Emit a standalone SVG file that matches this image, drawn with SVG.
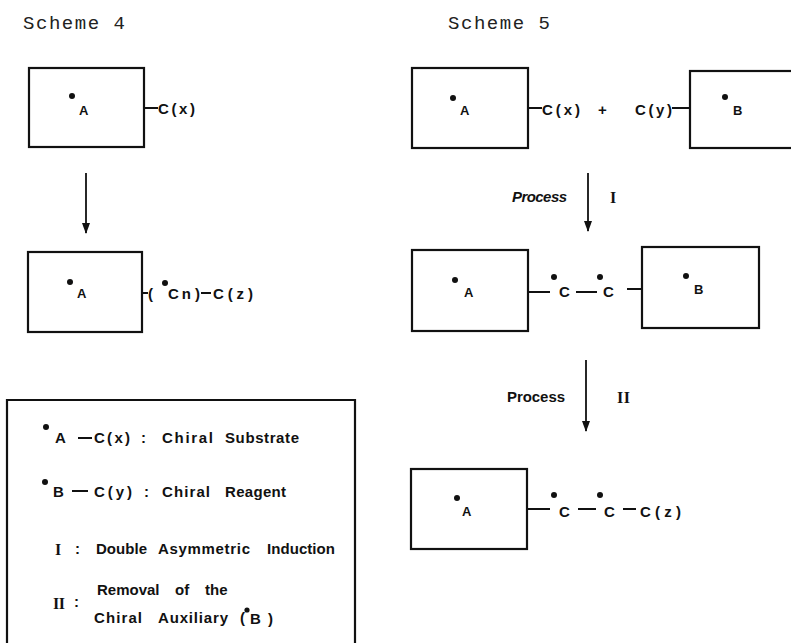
<svg xmlns="http://www.w3.org/2000/svg" width="791" height="643" viewBox="0 0 791 643">
<style>
.bx{fill:none;stroke:#111;stroke-width:2.2}
.ln{stroke:#111;stroke-width:2;fill:none}
.ar{stroke:#111;stroke-width:1.8;fill:none}
.dt{fill:#111}
.t{font-family:"Liberation Sans",Arial,sans-serif;font-weight:bold;font-size:15px;fill:#111}
.s{font-size:13px}
.i{font-style:italic}
.r{font-family:"Liberation Serif","Times New Roman",serif;font-weight:bold;font-size:16px;fill:#111}
.m{font-family:"Liberation Mono","Courier New",monospace;font-size:19px;fill:#222}
</style>
<defs>
<marker id="ah" markerUnits="userSpaceOnUse" markerWidth="11" markerHeight="8" refX="10" refY="4" orient="auto">
<path d="M0,0 L11,4 L0,8 z" fill="#111"/>
</marker>
</defs>
<rect width="791" height="643" fill="#fff"/>

<text class="m" x="23" y="29" textLength="102" lengthAdjust="spacing">Scheme 4</text>
<text class="m" x="448" y="29" textLength="102" lengthAdjust="spacing">Scheme 5</text>

<!-- Scheme 4 -->
<g id="s4-top">
<rect class="bx" x="29" y="68" width="115" height="79"/>
<circle class="dt" cx="72" cy="96" r="3"/>
<text class="t s" x="79" y="115">A</text>
<line class="ln" x1="144" y1="108" x2="158" y2="108"/>
<text class="t" x="158" y="114" textLength="37" lengthAdjust="spacing">C(x)</text>
</g>

<g id="s4-bottom">
<rect class="bx" x="28" y="252" width="114" height="80"/>
<circle class="dt" cx="70" cy="282" r="3"/>
<text class="t s" x="77" y="298">A</text>
<line class="ln" x1="142" y1="293" x2="148" y2="293"/>
<text class="t" x="148" y="299">(</text>
<circle class="dt" cx="165" cy="283" r="3"/>
<text class="t" x="168" y="299" textLength="23" lengthAdjust="spacing">Cn</text>
<text class="t" x="195" y="299">)</text>
<line class="ln" x1="201" y1="293" x2="211" y2="293"/>
<text class="t" x="213" y="299" textLength="40" lengthAdjust="spacing">C(z)</text>
</g>

<!-- Legend -->
<g id="legend">
<path class="bx" d="M7,650 V400 H355 V650"/>
<circle class="dt" cx="46" cy="427" r="3"/>
<text class="t" x="55" y="443">A</text>
<line class="ln" x1="78" y1="438" x2="92" y2="438"/>
<text class="t" x="94" y="443" textLength="36" lengthAdjust="spacing">C(x)</text>
<text class="t" x="141" y="443">:</text>
<text class="t" x="162" y="443" textLength="51" lengthAdjust="spacing">Chiral</text>
<text class="t" x="225" y="443" textLength="74" lengthAdjust="spacing">Substrate</text>

<circle class="dt" cx="45" cy="482" r="3"/>
<text class="t" x="53" y="497">B</text>
<line class="ln" x1="72" y1="491" x2="88" y2="491"/>
<text class="t" x="94" y="497" textLength="38" lengthAdjust="spacing">C(y)</text>
<text class="t" x="144" y="497">:</text>
<text class="t" x="162" y="497" textLength="48" lengthAdjust="spacing">Chiral</text>
<text class="t" x="225" y="497" textLength="61" lengthAdjust="spacing">Reagent</text>

<text class="r" x="55" y="555">I</text>
<text class="t" x="75" y="554">:</text>
<text class="t" x="96" y="554" textLength="51" lengthAdjust="spacing">Double</text>
<text class="t" x="158" y="554" textLength="92" lengthAdjust="spacing">Asymmetric</text>
<text class="t" x="267" y="554" textLength="68" lengthAdjust="spacing">Induction</text>

<text class="t" x="97" y="595">Removal</text>
<text class="t" x="175" y="595">of</text>
<text class="t" x="205" y="595">the</text>
<text class="r" x="53" y="609" textLength="12" lengthAdjust="spacing">II</text>
<text class="t" x="74" y="607">:</text>
<text class="t" x="94" y="623" textLength="48" lengthAdjust="spacing">Chiral</text>
<text class="t" x="158" y="623" textLength="70" lengthAdjust="spacing">Auxiliary</text>
<text class="t" x="240" y="623">(</text>
<circle class="dt" cx="247" cy="610" r="2.6"/>
<text class="t" x="250" y="624" textLength="23" lengthAdjust="spacing">B)</text>
</g>

<!-- Scheme 5 -->
<g id="s5-A1">
<rect class="bx" x="412" y="68" width="116" height="80"/>
<circle class="dt" cx="453" cy="98" r="3"/>
<text class="t s" x="460" y="115">A</text>
<line class="ln" x1="528" y1="108" x2="542" y2="108"/>
<text class="t" x="542" y="115" textLength="38" lengthAdjust="spacing">C(x)</text>
</g>
<text class="t" x="598" y="115">+</text>
<g id="s5-B1">
<text class="t" x="635" y="115" textLength="37" lengthAdjust="spacing">C(y)</text>
<line class="ln" x1="672" y1="108" x2="690" y2="108"/>
<rect class="bx" x="690" y="71" width="110" height="77"/>
<circle class="dt" cx="725" cy="97" r="3"/>
<text class="t s" x="733" y="115">B</text>
</g>

<g id="s5-mid">
<rect class="bx" x="412" y="250" width="116" height="81"/>
<circle class="dt" cx="455" cy="280" r="3"/>
<text class="t s" x="464" y="297">A</text>
<line class="ln" x1="528" y1="292" x2="550" y2="292"/>
<circle class="dt" cx="554" cy="277" r="3"/>
<text class="t" x="559" y="297">C</text>
<line class="ln" x1="576" y1="292" x2="597" y2="292"/>
<circle class="dt" cx="600" cy="277" r="3"/>
<text class="t" x="603" y="297">C</text>
<line class="ln" x1="627" y1="289" x2="642" y2="289"/>
<rect class="bx" x="642" y="247" width="117" height="81"/>
<circle class="dt" cx="686" cy="276" r="3"/>
<text class="t s" x="694" y="294">B</text>
</g>

<g id="s5-bottom">
<rect class="bx" x="411" y="469" width="116" height="80"/>
<circle class="dt" cx="457" cy="498" r="3"/>
<text class="t s" x="462" y="516">A</text>
<line class="ln" x1="527" y1="509" x2="550" y2="509"/>
<circle class="dt" cx="554" cy="495" r="3"/>
<text class="t" x="559" y="517">C</text>
<line class="ln" x1="578" y1="509" x2="596" y2="509"/>
<circle class="dt" cx="600" cy="495" r="3"/>
<text class="t" x="604" y="517">C</text>
<line class="ln" x1="623" y1="509" x2="636" y2="509"/>
<text class="t" x="640" y="517" textLength="41" lengthAdjust="spacing">C(z)</text>
</g>

<g id="connectors">
<line class="ar" x1="86" y1="173" x2="86" y2="233" marker-end="url(#ah)"/>
<line class="ar" x1="588" y1="173" x2="588" y2="231" marker-end="url(#ah)"/>
<line class="ar" x1="586" y1="360" x2="586" y2="431" marker-end="url(#ah)"/>
<text class="t i" x="512" y="202" font-size="14" textLength="55" lengthAdjust="spacing">Process</text>
<text class="r" x="610" y="203">I</text>
<text class="t" x="507" y="402" textLength="58" lengthAdjust="spacing">Process</text>
<text class="r" x="617" y="403" textLength="13" lengthAdjust="spacing">II</text>
</g>
</svg>
